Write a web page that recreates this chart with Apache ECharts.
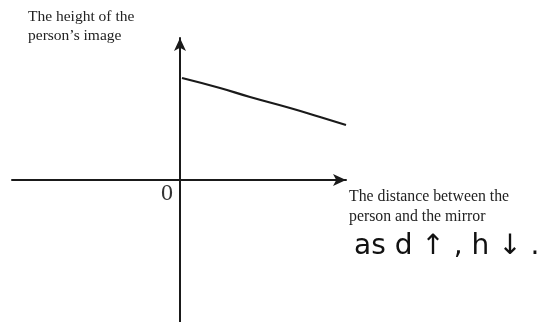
<!DOCTYPE html>
<html>
<head>
<meta charset="utf-8">
<script src="https://cdn.jsdelivr.net/npm/echarts@6/dist/echarts.min.js"></script>
<style>
  html, body { margin: 0; padding: 0; background: #fff; }
  #chart { width: 540px; height: 322px; }
</style>
</head>
<body>
<div id="chart"></div>
<script>
// Sketch: image height h against distance d from the mirror
const distance = [2, 40, 70, 110, 140, 166];
const imageHeight = [102, 92, 83, 72, 63, 55];
const yTitle = ['The height of the', 'person\u2019s image'];
const xTitle = ['The distance between the', 'person and the mirror'];
const note = 'as d \u2191 , h \u2193 .';
const originLabel = '0';

const chart = echarts.init(document.getElementById('chart'), null, { renderer: 'canvas' });
const ink = '#1a1a1a';
const serif = '"Liberation Serif", "Times New Roman", serif';

chart.setOption({
  backgroundColor: '#ffffff',
  animation: false,
  grid: { left: 12, top: 38, width: 334, height: 284, containLabel: false },
  xAxis: {
    type: 'value', min: -168, max: 166,
    axisLine: { onZero: true, symbol: ['none', 'arrow'], symbolSize: [9, 13],
      lineStyle: { color: ink, width: 2 } },
    axisTick: { show: false }, axisLabel: { show: false }, splitLine: { show: false }
  },
  yAxis: {
    type: 'value', min: -142, max: 142,
    axisLine: { onZero: true, symbol: ['none', 'arrow'], symbolSize: [9, 13],
      lineStyle: { color: ink, width: 2 } },
    axisTick: { show: false }, axisLabel: { show: false }, splitLine: { show: false }
  },
  series: [{
    type: 'line',
    data: distance.map((d, i) => [d, imageHeight[i]]),
    showSymbol: false,
    smooth: true,
    lineStyle: { color: ink, width: 2.2 }
  }],
  graphic: [
    { type: 'text', left: 28, top: 7,
      style: { text: yTitle.join('\n'), fontFamily: serif, fontSize: 15.5, fill: '#222', lineHeight: 19 } },
    { type: 'text', left: 349, top: 187,
      style: { text: xTitle.join('\n'), fontFamily: serif, fontSize: 15.8, fill: '#222', lineHeight: 20 } },
    { type: 'text', left: 161, top: 182,
      style: { text: originLabel, fontFamily: serif, fontSize: 24, fill: '#333' } },
    { type: 'text', left: 354, top: 233,
      style: { text: note, fontFamily: '"DejaVu Sans", sans-serif', fontSize: 28, fill: '#111' } }
  ]
});
</script>
</body>
</html>
